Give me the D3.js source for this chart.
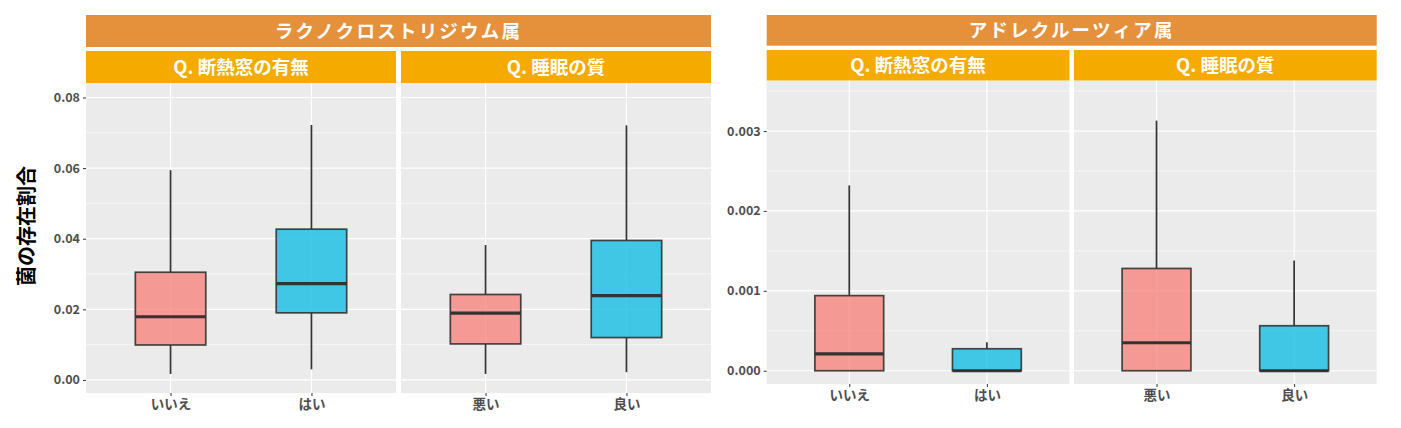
<!DOCTYPE html>
<html>
<head>
<meta charset="utf-8">
<script src="https://cdn.jsdelivr.net/npm/d3@7"></script>
<style>
	body { margin: 0; background: #fff; }
	svg { display: block; font-family: "Noto Sans CJK JP", "Noto Sans", sans-serif; }
</style>
</head>
<body>
<svg id="chart" width="1401" height="428"></svg>
<script>
// genus / question labels
const genera = ["ラクノクロストリジウム属", "アドレクルーツィア属"];
const questions = ["Q. 断熱窓の有無", "Q. 睡眠の質"];
const windowCats = ["いいえ", "はい"];
const sleepCats = ["悪い", "良い"];
const yLabel = "菌の存在割合";

// box stats per category: [lower whisker, q1, median, q3, upper whisker]
const lachnoWindow = [
	[0.0017, 0.0099, 0.0179, 0.0305, 0.0594],
	[0.0030, 0.0190, 0.0273, 0.0427, 0.0722]
];
const lachnoSleep = [
	[0.0017, 0.0102, 0.0189, 0.0242, 0.0382],
	[0.0022, 0.0120, 0.0239, 0.0395, 0.0721]
];
const adlerWindow = [
	[0, 0, 0.00021, 0.00094, 0.00232],
	[0, 0, 0, 0.000275, 0.000355]
];
const adlerSleep = [
	[0, 0, 0.00035, 0.00128, 0.00313],
	[0, 0, 0, 0.000563, 0.00138]
];

// y axis ticks
const lachnoTicks = [0, 0.02, 0.04, 0.06, 0.08];
const lachnoMinor = [0.01, 0.03, 0.05, 0.07];
const lachnoDomain = [-0.0037, 0.0841];
const adlerTicks = [0, 0.001, 0.002, 0.003];
const adlerMinor = [0.0005, 0.0015, 0.0025, 0.0035];
const adlerDomain = [-0.000166, 0.00363];

const fills = ["#F8766D", "#22C1E4"];
const fillOpacity = [0.7, 0.85];

const plots = [
	{
		genus: genera[0],
		facets: [
			{title: questions[0], cats: windowCats, stats: lachnoWindow},
			{title: questions[1], cats: sleepCats, stats: lachnoSleep}
		],
		ticks: lachnoTicks, minor: lachnoMinor, domain: lachnoDomain,
		fmt: d3.format(".2f"),
		layout: {left: 86, right: 711, gap: 5, genusTop: 15, genusBottom: 47, qTop: 51, qBottom: 83, bottom: 393, yLabel: true}
	},
	{
		genus: genera[1],
		facets: [
			{title: questions[0], cats: windowCats, stats: adlerWindow},
			{title: questions[1], cats: sleepCats, stats: adlerSleep}
		],
		ticks: adlerTicks, minor: adlerMinor, domain: adlerDomain,
		fmt: d3.format(".3f"),
		layout: {left: 766.7, right: 1376.7, gap: 4.5, genusTop: 15, genusBottom: 45.7, qTop: 50, qBottom: 80.7, bottom: 384, yLabel: false}
	}
];

const svg = d3.select("#chart");

plots.forEach((plot) => {
	const L = plot.layout;
	const g = svg.append("g");
	const panelW = (L.right - L.left - L.gap) / 2;

	const y = d3.scaleLinear().domain(plot.domain).range([L.bottom, L.qBottom]);

	// genus strip
	g.append("rect")
	.attr("x", L.left)
	.attr("y", L.genusTop)
	.attr("width", L.right - L.left)
	.attr("height", L.genusBottom - L.genusTop)
	.attr("fill", "#E5903A");

	g.append("text")
	.attr("x", (L.left + L.right) / 2)
	.attr("y", (L.genusTop + L.genusBottom) / 2)
	.attr("dy", "0.36em")
	.attr("text-anchor", "middle")
	.attr("fill", "#fff")
	.attr("font-size", 18.5)
	.attr("font-weight", "bold")
	.attr("letter-spacing", 2.2)
	.text(plot.genus);

	plot.facets.forEach((facet, fi) => {
		const x0 = L.left + fi * (panelW + L.gap);
		const x1 = x0 + panelW;

		const x = d3.scalePoint().domain(facet.cats).range([x0, x1]).padding(0.6);
		const boxW = x.step() * 0.5;

		// question strip
		g.append("rect")
		.attr("x", x0)
		.attr("y", L.qTop)
		.attr("width", panelW)
		.attr("height", L.qBottom - L.qTop)
		.attr("fill", "#F5AA00");

		g.append("text")
		.attr("x", (x0 + x1) / 2)
		.attr("y", (L.qTop + L.qBottom) / 2)
		.attr("dy", "0.36em")
		.attr("text-anchor", "middle")
		.attr("fill", "#fff")
		.attr("font-size", 18.5)
		.attr("font-weight", "bold")
		.text(facet.title);

		// panel
		g.append("rect")
		.attr("x", x0)
		.attr("y", L.qBottom)
		.attr("width", panelW)
		.attr("height", L.bottom - L.qBottom)
		.attr("fill", "#EBEBEB");

		const grid = g.append("g").attr("stroke", "#fff");

		grid.selectAll(".minor")
		.data(plot.minor)
		.enter()
		.append("line")
		.attr("x1", x0)
		.attr("x2", x1)
		.attr("y1", (d) => y(d))
		.attr("y2", (d) => y(d))
		.attr("stroke-width", 0.6);

		grid.selectAll(".major")
		.data(plot.ticks)
		.enter()
		.append("line")
		.attr("x1", x0)
		.attr("x2", x1)
		.attr("y1", (d) => y(d))
		.attr("y2", (d) => y(d))
		.attr("stroke-width", 1.2);

		grid.selectAll(".vmajor")
		.data(facet.cats)
		.enter()
		.append("line")
		.attr("x1", (d) => x(d))
		.attr("x2", (d) => x(d))
		.attr("y1", L.qBottom)
		.attr("y2", L.bottom)
		.attr("stroke-width", 1.2);

		// boxes
		const box = g.selectAll(".box" + fi)
		.data(facet.stats)
		.enter()
		.append("g")
		.attr("transform", (d, i) => `translate(${x(facet.cats[i])}, 0)`);

		box.append("line")
		.attr("y1", (d) => y(d[0]))
		.attr("y2", (d) => y(d[1]))
		.attr("stroke", "#333")
		.attr("stroke-width", 1.7);

		box.append("line")
		.attr("y1", (d) => y(d[3]))
		.attr("y2", (d) => y(d[4]))
		.attr("stroke", "#333")
		.attr("stroke-width", 1.7);

		box.append("rect")
		.attr("x", -boxW / 2)
		.attr("width", boxW)
		.attr("y", (d) => y(d[3]))
		.attr("height", (d) => y(d[1]) - y(d[3]))
		.attr("fill", (d, i) => fills[i])
		.attr("fill-opacity", (d, i) => fillOpacity[i])
		.attr("stroke", "#333")
		.attr("stroke-opacity", 0.9)
		.attr("stroke-width", 1.7);

		box.append("line")
		.attr("x1", -boxW / 2)
		.attr("x2", boxW / 2)
		.attr("y1", (d) => y(d[2]))
		.attr("y2", (d) => y(d[2]))
		.attr("stroke", "#333")
		.attr("stroke-width", 3.2);

		// x axis
		const xAxis = g.append("g")
		.attr("transform", `translate(0, ${L.bottom})`)
		.call(d3.axisBottom(x).tickSize(3).tickPadding(3));

		xAxis.select(".domain").remove();
		xAxis.selectAll(".tick line").attr("stroke", "#333");
		xAxis.selectAll(".tick text")
		.attr("fill", "#4D4D4D")
		.attr("font-size", 13.5)
		.attr("font-weight", "bold")
		.attr("font-family", "\"Noto Sans CJK JP\", sans-serif");
	});

	// y axis
	const yAxis = g.append("g")
	.attr("transform", `translate(${L.left}, 0)`)
	.call(d3.axisLeft(y).tickValues(plot.ticks).tickFormat(plot.fmt).tickSize(3).tickPadding(3));

	yAxis.select(".domain").remove();
	yAxis.selectAll(".tick line").attr("stroke", "#333");
	yAxis.selectAll(".tick text")
	.attr("fill", "#4D4D4D")
	.attr("font-size", 12.5)
	.attr("font-weight", "bold")
	.attr("font-family", "\"Noto Sans CJK JP\", sans-serif");

	if (L.yLabel) {
		g.append("text")
		.attr("transform", `translate(27, 226) rotate(-90)`)
		.attr("dy", "0.36em")
		.attr("text-anchor", "middle")
		.attr("fill", "#000")
		.attr("font-size", 20)
		.attr("font-weight", "bold")
		.text(yLabel);
	}
});
</script>
</body>
</html>
